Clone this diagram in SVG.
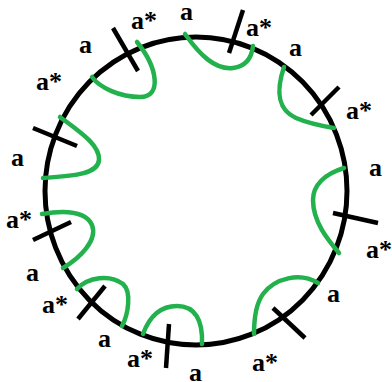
<svg xmlns="http://www.w3.org/2000/svg" width="392" height="382" viewBox="0 0 392 382">
<style>
.ring{fill:none;stroke:#000;stroke-width:5}
.arc{fill:none;stroke:#22b14c;stroke-width:4.5;stroke-linecap:round}
.tick{stroke:#000;stroke-width:4.5}
.lbl{font-family:"Liberation Serif","Times New Roman",serif;font-weight:bold;font-size:26px;fill:#000}
</style>
<rect width="392" height="382" fill="#fff"/>
<g id="ring"><ellipse class="ring" cx="196" cy="191" rx="151" ry="154"/></g>
<g id="connectors">
<path class="arc" d="M137,42 C158,68 162,97 140,97 C120,97 100,88 92,77"/>
<path class="arc" d="M60,117 C80,132 100,145 99,160 C98,175 70,176 43,178"/>
<path class="arc" d="M185,34 C200,55 215,70 233,68 C248,66 252,55 253,46"/>
<path class="arc" d="M284,67 C278,85 274,108 296,118 C310,124 322,126 334,128"/>
<path class="arc" d="M344,168 C325,174 313,185 313,200 C313,222 328,240 339,253"/>
<path class="arc" d="M318,283 C300,272 275,278 263,294 C255,305 254,320 254,334"/>
<path class="arc" d="M143,334 C150,315 162,306 177,306 C195,306 203,320 202,344"/>
<path class="arc" d="M77,289 C88,277 110,274 123,284 C132,292 128,315 122,326"/>
<path class="arc" d="M42,214 C60,211 85,210 92,225 C98,240 80,258 63,268"/>
</g>
<g id="ticks">
<line class="tick" x1="113" y1="28" x2="138" y2="71"/>
<line class="tick" x1="33" y1="128" x2="77" y2="146"/>
<line class="tick" x1="243" y1="10" x2="229" y2="53"/>
<line class="tick" x1="339" y1="87" x2="311" y2="115"/>
<line class="tick" x1="333" y1="213" x2="378" y2="223"/>
<line class="tick" x1="273" y1="308" x2="305" y2="338"/>
<line class="tick" x1="169" y1="324" x2="166" y2="368"/>
<line class="tick" x1="105" y1="286" x2="78" y2="319"/>
<line class="tick" x1="33" y1="240" x2="71" y2="222"/>
</g>
<g id="labels">
<text class="lbl" x="180" y="20">a</text>
<text class="lbl" x="131" y="29">a*</text>
<text class="lbl" x="246" y="36">a*</text>
<text class="lbl" x="289" y="56">a</text>
<text class="lbl" x="79" y="53">a</text>
<text class="lbl" x="36" y="90">a*</text>
<text class="lbl" x="346" y="119">a*</text>
<text class="lbl" x="369" y="176">a</text>
<text class="lbl" x="11" y="166">a</text>
<text class="lbl" x="6" y="228">a*</text>
<text class="lbl" x="366" y="258">a*</text>
<text class="lbl" x="26" y="281">a</text>
<text class="lbl" x="327" y="302">a</text>
<text class="lbl" x="42" y="313">a*</text>
<text class="lbl" x="98" y="347">a</text>
<text class="lbl" x="127" y="367">a*</text>
<text class="lbl" x="252" y="371">a*</text>
<text class="lbl" x="189" y="381">a</text>
</g>
</svg>
